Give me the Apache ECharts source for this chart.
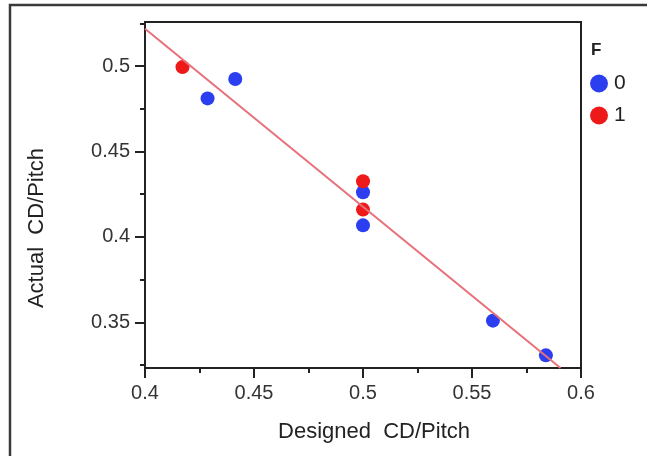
<!DOCTYPE html>
<html>
<head>
<meta charset="utf-8">
<script src="https://cdn.jsdelivr.net/npm/echarts@6/dist/echarts.min.js"></script>
<style>
  html, body { margin: 0; padding: 0; background: #fff; }
  #chart { width: 647px; height: 456px; }
</style>
</head>
<body>
<div id="chart"></div>
<script>
// ---- data ----
const seriesNames = ['0', '1'];
const groupF0 = [[0.4287, 0.4811], [0.4414, 0.4924], [0.5, 0.4262], [0.5, 0.4068], [0.5596, 0.3510], [0.5839, 0.3307]];
const groupF1 = [[0.4172, 0.4994], [0.5, 0.4326], [0.5, 0.4160]];
const fitLine = [[0.4, 0.5218], [0.5906, 0.3233]];
const xTickLabels = [0.4, 0.45, 0.5, 0.55, 0.6];
const yTickLabels = [0.35, 0.4, 0.45, 0.5];
const yMinorTicks = [0.325, 0.375, 0.425, 0.475, 0.525];
const xRange = [0.4, 0.6];
const yRange = [0.3233, 0.5258];
const xTitle = 'Designed  CD/Pitch';
const yTitle = 'Actual  CD/Pitch';
const legendTitle = 'F';

const FONT = '"Liberation Sans", Arial, sans-serif';
const chart = echarts.init(document.getElementById('chart'), null, { renderer: 'canvas' });

chart.setOption({
  animation: false,
  backgroundColor: '#fff',
  title: {
    text: legendTitle, left: 586, top: 37,
    textStyle: { fontFamily: FONT, fontSize: 17, fontWeight: 'bold', color: '#222' }
  },
  legend: {
    orient: 'vertical', left: 585, top: 68,
    data: seriesNames,
    icon: 'circle', itemWidth: 18, itemHeight: 18, itemGap: 11,
    textStyle: { fontFamily: FONT, fontSize: 21, color: '#222', lineHeight: 18, padding: [0, 0, 0, 1] }
  },
  graphic: [{
    type: 'rect', silent: true, z: 100,
    shape: { x: 10, y: 5, width: 700, height: 520 },
    style: { fill: 'none', stroke: '#3a3a3a', lineWidth: 2.5 }
  }, {
    type: 'text', silent: true, x: 374, y: 432,
    style: { text: xTitle, font: '22px ' + FONT, fill: '#222', align: 'center', verticalAlign: 'middle' }
  }, {
    type: 'text', silent: true, x: 37, y: 228, rotation: Math.PI / 2,
    style: { text: yTitle, font: '22px ' + FONT, fill: '#222', align: 'center', verticalAlign: 'middle' }
  }],
  grid: {
    left: 145, top: 22, width: 436, height: 346,
    show: true, borderColor: '#222', borderWidth: 2, backgroundColor: 'transparent'
  },
  xAxis: {
    type: 'value', min: xRange[0], max: xRange[1], interval: 0.05,
    axisLine: { show: true, onZero: false, lineStyle: { color: '#222', width: 2 } },
    axisTick: { show: true, inside: false, length: 10, lineStyle: { color: '#222', width: 2 } },
    minorTick: { show: true, splitNumber: 2, length: 5, lineStyle: { color: '#222', width: 2 } },
    splitLine: { show: false },
    minorSplitLine: { show: false },
    axisLabel: {
      fontFamily: FONT, fontSize: 20, color: '#333', margin: 15,
      customValues: xTickLabels,
      formatter: v => String(v)
    }
  },
  yAxis: [{
    type: 'value', min: yRange[0], max: yRange[1],
    axisLine: { show: true, onZero: false, lineStyle: { color: '#222', width: 2 } },
    axisTick: { show: true, inside: false, length: 10, customValues: yTickLabels, lineStyle: { color: '#222', width: 2 } },
    splitLine: { show: false },
    axisLabel: {
      fontFamily: FONT, fontSize: 20, color: '#333', margin: 15,
      customValues: yTickLabels,
      formatter: v => String(v)
    }
  }, {
    type: 'value', min: yRange[0], max: yRange[1], position: 'left', offset: 0,
    axisLine: { show: false },
    axisTick: { show: true, inside: false, length: 5, customValues: yMinorTicks, lineStyle: { color: '#222', width: 2 } },
    splitLine: { show: false },
    axisLabel: { show: false }
  }],
  series: [{
    name: seriesNames[0], type: 'scatter', data: groupF0,
    symbolSize: 14, itemStyle: { color: '#2c3ff0', opacity: 1 }, z: 3
  }, {
    name: seriesNames[1], type: 'scatter', data: groupF1,
    symbolSize: 14, itemStyle: { color: '#ee1a1a', opacity: 1 }, z: 3
  }, {
    name: 'fit', type: 'line', data: fitLine, symbol: 'none', silent: true,
    lineStyle: { color: '#e8707a', width: 2 }, z: 4, clip: true
  }]
});
</script>
</body>
</html>
